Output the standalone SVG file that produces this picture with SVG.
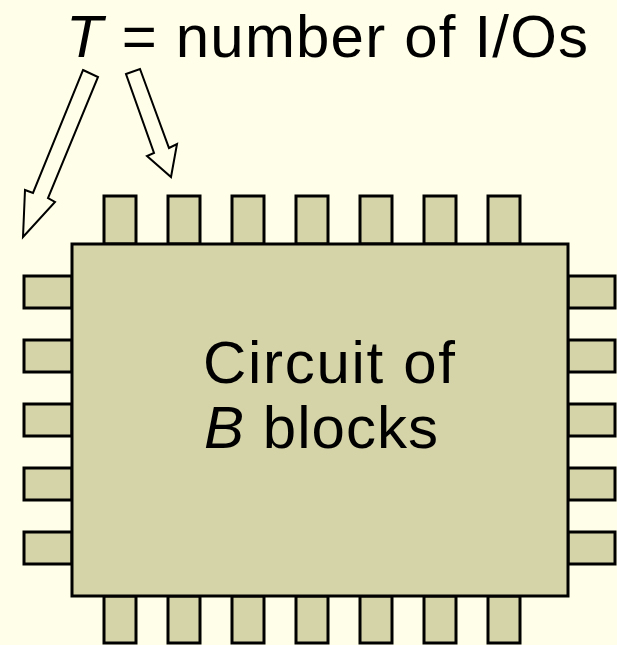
<svg xmlns="http://www.w3.org/2000/svg" width="617" height="645" viewBox="0 0 617 645">
<style>
.pin{fill:#D5D3A8;stroke:#000;stroke-width:3}
.body{fill:#D5D3A8;stroke:#000;stroke-width:3}
.arr{fill:#FFFFE9;stroke:#000;stroke-width:2;stroke-linejoin:miter}
.t{font-family:"Liberation Sans",Arial,sans-serif;font-size:60px;fill:#000}
</style>
<rect x="0" y="0" width="617" height="645" fill="#FFFFE9"/>
<g id="title">
<text class="t" x="66" y="57" textLength="522" lengthAdjust="spacing"><tspan font-style="italic">T</tspan> = number of I/Os</text>
</g>
<g id="pins">
<rect class="pin" x="104" y="196" width="32" height="48"/>
<rect class="pin" x="168" y="196" width="32" height="48"/>
<rect class="pin" x="232" y="196" width="32" height="48"/>
<rect class="pin" x="296" y="196" width="32" height="48"/>
<rect class="pin" x="360" y="196" width="32" height="48"/>
<rect class="pin" x="424" y="196" width="32" height="48"/>
<rect class="pin" x="488" y="196" width="32" height="48"/>
<rect class="pin" x="104" y="596" width="32" height="47"/>
<rect class="pin" x="168" y="596" width="32" height="47"/>
<rect class="pin" x="232" y="596" width="32" height="47"/>
<rect class="pin" x="296" y="596" width="32" height="47"/>
<rect class="pin" x="360" y="596" width="32" height="47"/>
<rect class="pin" x="424" y="596" width="32" height="47"/>
<rect class="pin" x="488" y="596" width="32" height="47"/>
<rect class="pin" x="24" y="276" width="48" height="32"/>
<rect class="pin" x="24" y="340" width="48" height="32"/>
<rect class="pin" x="24" y="404" width="48" height="32"/>
<rect class="pin" x="24" y="468" width="48" height="32"/>
<rect class="pin" x="24" y="532" width="48" height="32"/>
<rect class="pin" x="568" y="276" width="47" height="32"/>
<rect class="pin" x="568" y="340" width="47" height="32"/>
<rect class="pin" x="568" y="404" width="47" height="32"/>
<rect class="pin" x="568" y="468" width="47" height="32"/>
<rect class="pin" x="568" y="532" width="47" height="32"/>
</g>
<g id="circuit">
<rect class="body" x="72" y="244" width="496" height="352"/>
<text class="t" x="203" y="383" textLength="252" lengthAdjust="spacing">Circuit of</text>
<text class="t" x="204" y="448" textLength="234" lengthAdjust="spacing"><tspan font-style="italic">B</tspan> blocks</text>
</g>
<g id="connectors">
<polygon class="arr" points="83,70 98,77 48,198 55,202 23,237 25,190 33,193"/>
<polygon class="arr" points="126,74 140,69 169,148 177,144 171,177 147,156 154,153"/>
</g>
</svg>
